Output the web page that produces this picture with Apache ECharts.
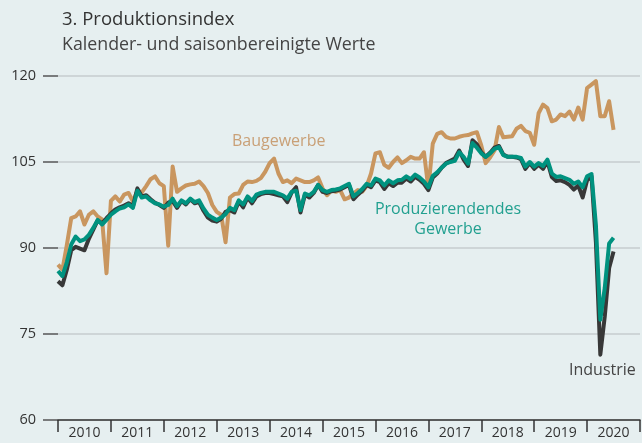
<!DOCTYPE html>
<html>
<head>
    <meta charset="UTF-8">
    <title>Produktionsindex</title>
    <script src="https://cdn.jsdelivr.net/npm/echarts@6/dist/echarts.min.js"></script>
    <style>
        body { margin: 0; background: #e6eff0; }
        #container { width: 642px; height: 443px; }
    </style>
</head>
<body>
<div id="container"></div>
<script>

    // Jahre auf der x-Achse und Monatswerte ab Januar 2010
    var years = ['2010', '2011', '2012', '2013', '2014', '2015', '2016', '2017', '2018', '2019', '2020'];
    var startYear = 2010;

    var baugewerbe = [
        87.1, 86.2, 90.5, 95.2, 95.5, 96.4, 94.1, 95.8, 96.4, 95.5, 95.0, 85.6,
        98.2, 99.0, 98.1, 99.3, 99.6, 98.1, 100.0, 99.7, 100.8, 102.0, 102.5, 101.3,
        100.8, 90.4, 104.2, 99.8, 100.4, 100.9, 101.1, 101.2, 101.6, 100.8, 99.6, 97.5,
        96.3, 95.8, 91.0, 98.8, 99.4, 99.5, 101.0, 101.6, 101.5, 101.7, 102.2, 103.3,
        104.8, 105.6, 103.0, 101.5, 101.8, 101.3, 102.1, 101.8, 101.5, 101.5, 101.8, 102.3,
        100.4, 99.2, 100.0, 99.8, 100.1, 98.5, 98.8, 99.5, 100.1, 99.8, 100.8, 103.0,
        106.5, 106.7, 104.5, 104.0, 105.0, 105.8, 104.8, 105.3, 105.9, 105.6, 105.6, 106.7,
        100.4, 108.2, 109.9, 110.2, 109.4, 109.1, 109.1, 109.4, 109.6, 109.7, 110.0, 110.2,
        107.9, 104.8, 105.8, 107.0, 111.1, 109.3, 109.4, 109.5, 110.8, 111.3, 110.4, 110.1,
        108.0, 113.5, 115.0, 114.4, 112.1, 112.4, 113.3, 113.0, 113.8, 112.4, 114.5, 112.4,
        117.9, 118.5, 119.1, 113.0, 113.0, 115.6, 110.6
    ];

    var produzierendes = [
        86.0, 85.1, 87.5, 90.6, 92.0, 91.2, 91.5, 92.3, 93.5, 94.9, 94.1, 94.9,
        95.8, 96.4, 96.9, 97.1, 97.6, 97.0, 100.0, 98.8, 99.0, 98.3, 97.8, 97.6,
        97.2, 97.5, 98.6, 97.3, 98.3, 97.8, 98.6, 98.0, 98.3, 96.9, 95.8, 95.3,
        94.9, 95.3, 95.9, 97.0, 96.6, 98.3, 97.6, 99.0, 98.2, 99.3, 99.6, 99.8,
        99.8, 99.8, 99.5, 99.2, 98.6, 99.8, 100.0, 96.6, 99.5, 99.2, 99.8, 101.0,
        100.1, 99.8, 100.1, 100.2, 100.4, 100.8, 101.2, 99.0, 99.6, 100.3, 101.2, 100.9,
        102.1, 101.8, 100.9, 101.8, 101.3, 101.8, 101.9, 102.5, 102.0, 102.8, 102.3, 101.6,
        100.6, 102.6, 103.2, 104.0, 104.7, 105.0, 105.2, 106.7, 105.9, 104.7, 108.3, 107.5,
        106.5, 105.9, 106.5, 107.3, 107.6, 106.2, 105.9, 105.9, 105.9, 105.7, 104.2, 105.0,
        104.2, 104.8, 104.3, 105.4, 103.0, 102.4, 102.5, 102.2, 101.9, 101.2, 101.6, 100.6,
        102.5, 102.9, 94.0, 77.5, 83.0, 90.8, 91.8
    ];

    var industrie = [
        84.2, 83.5, 86.2, 89.6, 90.2, 89.9, 89.6, 91.6, 93.2, 94.8, 94.3, 95.2,
        96.0, 96.7, 97.1, 97.4, 97.8, 97.3, 100.4, 99.0, 99.2, 98.5, 97.9, 97.5,
        97.0, 97.9, 98.2, 97.0, 98.2, 97.6, 98.5, 97.8, 98.0, 96.5, 95.3, 94.8,
        94.6, 95.1, 96.3, 96.6, 96.2, 98.1, 97.1, 98.8, 97.8, 99.0, 99.4, 99.6,
        99.6, 99.4, 99.2, 99.0, 98.0, 99.7, 100.6, 96.2, 99.3, 98.8, 99.6, 101.0,
        99.8, 99.6, 99.9, 100.0, 100.2, 100.6, 101.0, 98.5, 99.3, 100.0, 101.0, 100.6,
        101.8, 101.5, 100.3, 101.3, 100.8, 101.4, 101.4, 102.1, 101.6, 102.4, 101.9, 101.2,
        100.1, 102.3, 103.0, 104.0, 104.8, 105.2, 105.6, 107.0, 105.4, 104.3, 108.8, 108.1,
        106.7, 105.9, 106.6, 107.5, 107.8, 106.3, 105.9, 105.9, 105.8, 105.5, 103.8, 104.8,
        103.8, 104.5, 103.8, 105.1, 102.4, 101.7, 101.8, 101.5, 101.0, 100.2, 100.9, 98.8,
        101.8, 102.5, 91.0, 71.4, 78.0, 86.5, 89.4
    ];

    var yTicks = [60, 75, 90, 105, 120];

    // Monatsindex -> Zeitpunkt auf der Werteachse
    function toPoints(values) {
        var out = [];
        for (var i = 0; i < values.length; i++) {
            out.push([startYear + i / 12, values[i]]);
        }
        return out;
    }

    var fontName = '"Open Sans", "Noto Sans", sans-serif';

    var mychart = echarts.init(document.getElementById('container'));
    var option = {
        animation: false,
        backgroundColor: '#e6eff0',
        textStyle: { fontFamily: fontName },
        title: {
            text: '3. Produktionsindex',
            subtext: 'Kalender- und saisonbereinigte Werte',
            left: 57,
            top: 5,
            itemGap: 7,
            textStyle: { fontSize: 18.5, fontWeight: 'normal', color: '#333', fontFamily: fontName },
            subtextStyle: { fontSize: 17.8, color: '#444', fontFamily: fontName }
        },
        grid: { left: 58, right: 2, top: 76, bottom: 23 },
        xAxis: [{
            type: 'category',
            data: years,
            boundaryGap: true,
            axisLine: { lineStyle: { color: '#333', width: 1.5 } },
            axisTick: { show: true, alignWithLabel: false, length: 12, lineStyle: { color: '#333', width: 1.5 } },
            axisLabel: { color: '#333', fontSize: 14, margin: 6 },
            splitLine: { show: false }
        }, {
            type: 'value',
            min: startYear,
            max: startYear + years.length,
            show: false,
            splitLine: { show: false }
        }],
        yAxis: {
            type: 'value',
            min: yTicks[0],
            max: yTicks[yTicks.length - 1],
            interval: 15,
            axisLine: { show: false },
            axisTick: { show: true, length: 15, lineStyle: { color: '#555', width: 1.5 } },
            axisLabel: { color: '#333', fontSize: 14.5, margin: 22 },
            splitLine: { lineStyle: { color: '#c6cdcf', width: 1.5 } }
        },
        series: [{
            name: 'Baugewerbe',
            type: 'line',
            xAxisIndex: 1,
            data: toPoints(baugewerbe),
            showSymbol: false,
            lineStyle: { color: '#c9965f', width: 4, join: 'round' },
            z: 2
        }, {
            name: 'Industrie',
            type: 'line',
            xAxisIndex: 1,
            data: toPoints(industrie),
            showSymbol: false,
            lineStyle: { color: '#383838', width: 4, join: 'round' },
            z: 3
        }, {
            name: 'Produzierendes Gewerbe',
            type: 'line',
            xAxisIndex: 1,
            data: toPoints(produzierendes),
            showSymbol: false,
            lineStyle: { color: '#00927f', width: 4, join: 'round' },
            z: 4
        }],
        graphic: [{
            type: 'text', x: 232, y: 133,
            style: { text: 'Baugewerbe', fill: '#c9a077', font: '16px ' + fontName }
        }, {
            type: 'text', x: 448, y: 199,
            style: { text: 'Produzierendendes\nGewerbe', fill: '#22a090', font: '16px ' + fontName, align: 'center', lineHeight: 20 }
        }, {
            type: 'text', x: 569, y: 362,
            style: { text: 'Industrie', fill: '#444', font: '16px ' + fontName }
        }]
    };

    mychart.setOption(option);

</script>
</body>
</html>
